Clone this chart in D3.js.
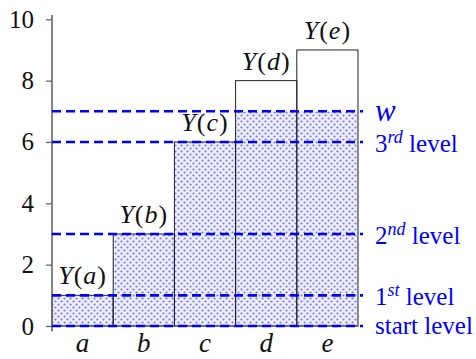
<!DOCTYPE html>
<html lang="en">
<head>
<meta charset="utf-8">
<script src="https://d3js.org/d3.v7.min.js"></script>
<style>
  body { margin: 0; background: #fff; }
  svg { font-family: "Liberation Serif", "DejaVu Serif", serif; }
</style>
</head>
<body>
<script>
var categories = ["a", "b", "c", "d", "e"];
var values = [1, 3, 6, 8, 9];
var yTicks = [0, 2, 4, 6, 8, 10];
var waterLevel = 7;
var levels = [0, 1, 3, 6, 7];
var levelLabels = [
  ["start level"],
  ["1", "st", " level"],
  ["2", "nd", " level"],
  ["3", "rd", " level"],
  ["w"]
];

var width = 476, height = 359;

var x = d3.scaleBand().domain(categories).range([52, 358]);
var y = d3.scaleLinear().domain([0, 10]).range([326, 19.3]);

var svg = d3.select("body").append("svg")
  .attr("width", width)
  .attr("height", height);

// dotted fill for the water
var pat = svg.append("defs").append("pattern")
  .attr("id", "dots")
  .attr("patternUnits", "userSpaceOnUse")
  .attr("width", 6).attr("height", 6);
pat.append("rect").attr("width", 6).attr("height", 6).attr("fill", "#eeeefd");
pat.append("circle").attr("cx", 1.5).attr("cy", 1.5).attr("r", 1.1).attr("fill", "#7575f6");
pat.append("circle").attr("cx", 4.5).attr("cy", 4.5).attr("r", 1.1).attr("fill", "#7575f6");

svg.selectAll(".fill")
  .data(values)
  .enter().append("rect")
  .attr("class", "fill")
  .attr("x", function(d, i) { return x(categories[i]); })
  .attr("width", x.bandwidth())
  .attr("y", function(d) { return y(Math.min(d, waterLevel)); })
  .attr("height", function(d) { return y(0) - y(Math.min(d, waterLevel)); })
  .attr("fill", "url(#dots)");

svg.selectAll(".bar")
  .data(values)
  .enter().append("rect")
  .attr("class", "bar")
  .attr("x", function(d, i) { return x(categories[i]); })
  .attr("width", x.bandwidth())
  .attr("y", function(d) { return y(d); })
  .attr("height", function(d) { return y(0) - y(d); })
  .attr("fill", "none")
  .attr("stroke", "#222")
  .attr("stroke-width", 1);

// axes
var yAxis = svg.append("g")
  .attr("transform", "translate(52,0)")
  .call(d3.axisLeft(y).tickValues(yTicks).tickSize(6).tickPadding(12));
yAxis.select(".domain").remove();
yAxis.selectAll("line").attr("stroke", "#666").attr("stroke-width", 1.3);
yAxis.selectAll("text")
  .attr("font-size", 25)
  .attr("font-family", "Liberation Serif, serif")
  .attr("fill", "#111");

svg.append("line")
  .attr("x1", 52).attr("x2", 52)
  .attr("y1", 15).attr("y2", 331.5)
  .attr("stroke", "#666").attr("stroke-width", 1.6);
svg.append("line")
  .attr("x1", 52).attr("x2", 358)
  .attr("y1", y(0)).attr("y2", y(0))
  .attr("stroke", "#666").attr("stroke-width", 1.6);

svg.selectAll(".cat")
  .data(categories)
  .enter().append("text")
  .attr("class", "cat")
  .attr("x", function(d) { return x(d) + x.bandwidth() / 2; })
  .attr("y", 352)
  .attr("text-anchor", "middle")
  .attr("font-size", 27)
  .attr("font-style", "italic")
  .attr("fill", "#111")
  .text(function(d) { return d; });

// level lines
svg.selectAll(".level")
  .data(levels)
  .enter().append("line")
  .attr("class", "level")
  .attr("x1", 52).attr("x2", 363)
  .attr("y1", function(d) { return y(d); })
  .attr("y2", function(d) { return y(d); })
  .attr("stroke", "#0000ff")
  .attr("stroke-width", 2.6)
  .attr("stroke-dasharray", "9,5");

var lab = svg.selectAll(".lvl")
  .data(levels)
  .enter().append("text")
  .attr("class", "lvl")
  .attr("x", 375)
  .attr("y", function(d) { return y(d) + (d === 0 ? 8 : 10); })
  .attr("fill", "#0000ff")
  .attr("font-size", 25);
lab.each(function(d, i) {
  var t = d3.select(this);
  var parts = levelLabels[i];
  if (parts.length === 1) {
    t.append("tspan")
      .attr("font-style", parts[0] === "w" ? "italic" : null)
      .attr("font-size", parts[0] === "w" ? 31 : null)
      .text(parts[0]);
  } else {
    t.append("tspan").text(parts[0]);
    t.append("tspan").attr("dy", -9).attr("font-size", 18).attr("font-style", "italic").text(parts[1]);
    t.append("tspan").attr("dy", 9).text(parts[2]);
  }
});

// Y(.) labels
var yl = svg.selectAll(".ylab")
  .data(values)
  .enter().append("text")
  .attr("class", "ylab")
  .attr("x", function(d, i) { return x(categories[i]) + x.bandwidth() / 2; })
  .attr("y", function(d) { return y(d) - 11; })
  .attr("text-anchor", "middle")
  .attr("font-size", 26)
  .attr("letter-spacing", 1)
  .attr("fill", "#111");
yl.each(function(d, i) {
  var t = d3.select(this);
  t.append("tspan").attr("font-style", "italic").text("Y");
  t.append("tspan").text("(");
  t.append("tspan").attr("font-style", "italic").text(categories[i]);
  t.append("tspan").text(")");
});
</script>
</body>
</html>
